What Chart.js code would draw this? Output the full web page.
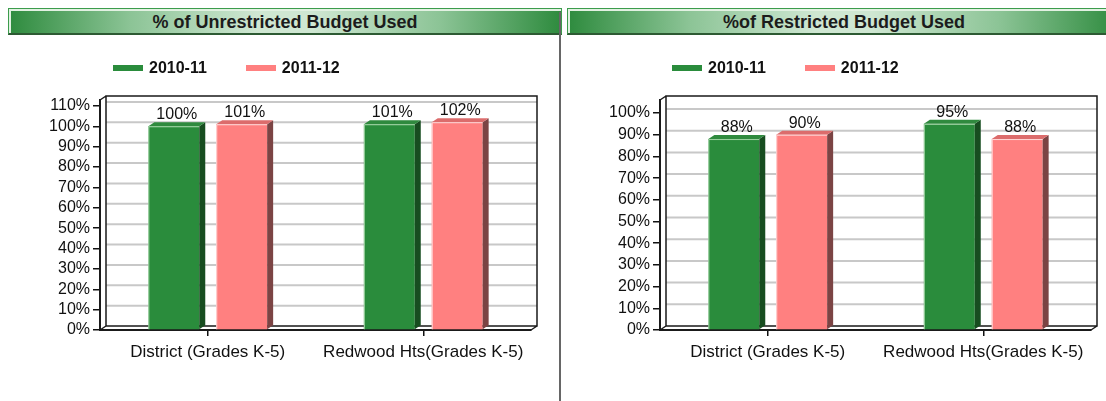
<!DOCTYPE html>
<html>
<head>
<meta charset="utf-8">
<script src="https://cdn.jsdelivr.net/npm/chart.js@4/dist/chart.umd.min.js"></script>
<style>
    body { margin: 0; width: 1106px; height: 401px; overflow: hidden; background: #fff; font-family: 'Liberation Sans', Arial, sans-serif; }
    .panel { position: absolute; top: 0; height: 401px; }
    .panel canvas { position: absolute; left: 0; top: 0; }
    .header {
        position: absolute; top: 8px; height: 24px; width: 552px;
        border: 1px solid #3c9c4c; border-bottom: 2px solid #2d5a33;
        box-shadow: inset 2px 2px 0 #e2f1e2;
        background: linear-gradient(to right, #2e8b3e 0%, #8cc496 22%, #cfe7d2 45%, #cfe7d2 55%, #8cc496 78%, #2e8b3e 100%);
        text-align: center; font-weight: bold; font-size: 18px; line-height: 26px; color: #1c1c1c;
    }
    .legend { position: absolute; top: 59px; left: 113px; display: flex; align-items: center; font-weight: bold; font-size: 16px; color: #111; }
    .legend .box { width: 30px; height: 6px; margin-right: 6px; }
    .legend .item { display: flex; align-items: center; margin-right: 39px; }
    .separator { position: absolute; left: 559px; top: 12px; width: 2px; height: 389px; background: #666; }
</style>
</head>
<body>
<div class="panel" style="left:0;width:559px;">
    <canvas id="unrestricted-chart"></canvas>
    <div class="header" style="left:8px;">% of Unrestricted Budget Used</div>
    <div class="legend" id="unrestricted-legend"></div>
</div>
<div class="separator"></div>
<div class="panel" style="left:560px;width:546px;">
    <canvas id="restricted-chart"></canvas>
    <div class="header" style="left:7px;">%of Restricted Budget Used</div>
    <div class="legend" id="restricted-legend" style="left:112px;"></div>
</div>
<script>
const categories = ['District (Grades K-5)', 'Redwood Hts(Grades K-5)'];
const seriesLabels = ['2010-11', '2011-12'];
const unrestricted2010 = [100, 101];
const unrestricted2011 = [101, 102];
const restricted2010 = [88, 95];
const restricted2011 = [90, 88];
const unrestrictedTickMax = 110;
const restrictedTickMax = 100;

const fontFamily = "'Liberation Sans', Arial, sans-serif";
// front, side and top face colours per series
const seriesColors = [
    { front: '#2a8c3c', side: '#174d20', top: '#2f8a3e', edge: 'rgba(190,230,190,0.8)' },
    { front: '#ff8080', side: '#7b4444', top: '#dc6c6c', edge: 'rgba(255,225,225,0.9)' }
];
const depthX = 6;
const depthY = 4;

// back wall, gridlines and floor of the 3d box
const wallPlugin = {
    id: 'wall',
    beforeDatasetsDraw(chart) {
        const { ctx, chartArea: a, scales: { y } } = chart;
        ctx.save();
        ctx.strokeStyle = '#c8c8c8';
        ctx.lineWidth = 2;
        y.ticks.forEach(t => {
            if (t.value === 0) return;
            const py = y.getPixelForValue(t.value) - depthY;
            ctx.beginPath();
            ctx.moveTo(a.left + depthX, py);
            ctx.lineTo(a.right + depthX, py);
            ctx.stroke();
        });
        ctx.strokeStyle = '#1a1a1a';
        ctx.lineWidth = 1.5;
        ctx.beginPath();
        // back wall
        ctx.moveTo(a.left + depthX, a.bottom - depthY);
        ctx.lineTo(a.left + depthX, a.top - depthY);
        ctx.lineTo(a.right + depthX, a.top - depthY);
        ctx.lineTo(a.right + depthX, a.bottom - depthY);
        ctx.lineTo(a.left + depthX, a.bottom - depthY);
        // diagonals
        ctx.moveTo(a.left, a.top);
        ctx.lineTo(a.left + depthX, a.top - depthY);
        ctx.moveTo(a.left, a.bottom);
        ctx.lineTo(a.left + depthX, a.bottom - depthY);
        ctx.moveTo(a.right, a.bottom);
        ctx.lineTo(a.right + depthX, a.bottom - depthY);
        ctx.stroke();
        ctx.restore();
    },
    // side and top faces of the bars, then the value labels
    afterDatasetsDraw(chart) {
        const { ctx } = chart;
        ctx.save();
        chart.data.datasets.forEach((ds, i) => {
            const c = seriesColors[i];
            chart.getDatasetMeta(i).data.forEach((bar, j) => {
                const l = bar.x - bar.width / 2;
                const r = bar.x + bar.width / 2;
                ctx.fillStyle = c.side;
                ctx.beginPath();
                ctx.moveTo(r, bar.y);
                ctx.lineTo(r + depthX, bar.y - depthY);
                ctx.lineTo(r + depthX, bar.base - depthY);
                ctx.lineTo(r, bar.base);
                ctx.closePath();
                ctx.fill();
                ctx.fillStyle = c.top;
                ctx.beginPath();
                ctx.moveTo(l, bar.y);
                ctx.lineTo(l + depthX, bar.y - depthY);
                ctx.lineTo(r + depthX, bar.y - depthY);
                ctx.lineTo(r, bar.y);
                ctx.closePath();
                ctx.fill();
                // light edge along the front face
                ctx.strokeStyle = c.edge;
                ctx.lineWidth = 1;
                ctx.beginPath();
                ctx.moveTo(l + 0.5, bar.base);
                ctx.lineTo(l + 0.5, bar.y + 0.5);
                ctx.lineTo(r, bar.y + 0.5);
                ctx.stroke();

                ctx.fillStyle = '#111';
                ctx.font = `16px ${fontFamily}`;
                ctx.textAlign = 'center';
                ctx.textBaseline = 'alphabetic';
                ctx.fillText(ds.data[j] + '%', bar.x + depthX / 2, bar.y - depthY - 3);
            });
        });
        ctx.restore();
    }
};

function buildLegend(id) {
    const el = document.getElementById(id);
    el.innerHTML = seriesLabels.map((label, i) => `
        <div class="item"><div class="box" style="background:${seriesColors[i].front}"></div>${label}</div>
    `).join('');
}

function makeChart(canvasId, first, second, tickMax, axisMax, width) {
    const canvas = document.getElementById(canvasId);
    canvas.width = width;
    canvas.height = 401;
    return new Chart(canvas.getContext('2d'), {
        type: 'bar',
        data: {
            labels: categories,
            datasets: [
                { label: seriesLabels[0], data: first, backgroundColor: seriesColors[0].front },
                { label: seriesLabels[1], data: second, backgroundColor: seriesColors[1].front }
            ]
        },
        options: {
            responsive: false,
            animation: false,
            categoryPercentage: 0.63,
            barPercentage: 0.75,
            layout: { padding: { top: 100, right: width - 531, left: 0, bottom: 0 } },
            plugins: {
                legend: { display: false },
                tooltip: { enabled: false }
            },
            scales: {
                x: {
                    afterFit: s => { s.height = 71; },
                    grid: { offset: false, drawOnChartArea: false, tickLength: 6, color: '#111', lineWidth: 1.5 },
                    border: { color: '#1a1a1a', width: 2 },
                    ticks: { color: '#111', font: { family: fontFamily, size: 17 }, padding: 6, autoSkip: false, maxRotation: 0 }
                },
                y: {
                    min: 0,
                    max: axisMax,
                    afterFit: s => { s.width = 100; },
                    afterBuildTicks: s => { s.ticks = s.ticks.filter(t => t.value <= tickMax); },
                    grid: { drawOnChartArea: false, tickLength: 7, color: '#111', lineWidth: 1.5 },
                    border: { color: '#1a1a1a', width: 2 },
                    ticks: {
                        stepSize: 10,
                        autoSkip: false,
                        includeBounds: false,
                        padding: 3,
                        color: '#111',
                        font: { family: fontFamily, size: 16 },
                        callback: v => v + '%'
                    }
                }
            }
        },
        plugins: [wallPlugin]
    });
}

buildLegend('unrestricted-legend');
buildLegend('restricted-legend');
makeChart('unrestricted-chart', unrestricted2010, unrestricted2011, unrestrictedTickMax, 112.9, 559);
makeChart('restricted-chart', restricted2010, restricted2011, restrictedTickMax, 106, 546);
</script>
</body>
</html>
